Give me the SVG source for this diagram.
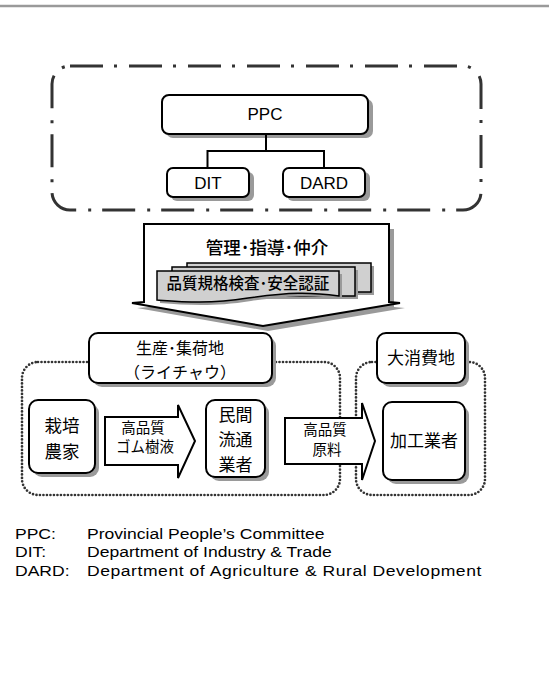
<svg xmlns="http://www.w3.org/2000/svg" width="549" height="682" viewBox="0 0 549 682">
<style>
.box{fill:#fff;stroke:#000;stroke-width:2}
.sh{fill:#9a9a9a;stroke:none}
.lat{font-family:"Liberation Sans",Arial,sans-serif;fill:#000}
.jp{font-family:"Noto Sans CJK JP","Noto Sans",sans-serif;fill:#000}
.card{fill:#d0d0d0;stroke:#000;stroke-width:1.5}
.conn{fill:none;stroke:#000;stroke-width:2}
.arr{fill:#fff;stroke:#000;stroke-width:2;stroke-linejoin:miter}
.dot{fill:none;stroke:#333;stroke-width:2.7;stroke-linecap:round;stroke-dasharray:0 3.5}
</style>
<rect width="549" height="682" fill="#fff"/>
<line x1="0" y1="6" x2="549" y2="6" stroke="#9a9a9a" stroke-width="2.5"/>

<g id="gov-group">
<rect x="52" y="66" width="429" height="144" rx="18" fill="none" stroke="#333" stroke-width="3" stroke-dasharray="33 11 3 12"/>
</g>

<g id="PPC">
<rect class="sh" x="166" y="99" width="207" height="39" rx="7"/>
<rect class="box" x="162" y="95" width="206" height="39" rx="7"/>
<text class="lat" x="265" y="120" font-size="17" text-anchor="middle">PPC</text>
</g>
<g id="DIT">
<rect class="sh" x="171" y="172" width="83" height="29" rx="6"/>
<rect class="box" x="167" y="168" width="82" height="29" rx="6"/>
<text class="lat" x="208" y="189" font-size="17" text-anchor="middle">DIT</text>
</g>
<g id="DARD">
<rect class="sh" x="287" y="172" width="83" height="29" rx="6"/>
<rect class="box" x="283" y="168" width="82" height="29" rx="6"/>
<text class="lat" x="324" y="189" font-size="17" text-anchor="middle">DARD</text>
</g>

<g id="connectors">
<path class="conn" d="M266,134 V151 M207.5,151 H324 M207.5,150 V168 M324,150 V168"/>
</g>

<g id="big-arrow">
<polygon class="sh" points="149,229 394,229 394,307 405,308 268,331 137,308 149,307"/>
<polygon class="arr" points="144,224 389,224 389,302 400,303 263,326 132,303 144,302"/>
<text class="jp" x="267" y="254" font-size="17.5" font-weight="500" text-anchor="middle">管理･指導･仲介</text>
</g>

<g id="cards">
<rect class="sh" x="190" y="266" width="184" height="29"/>
<rect class="card" x="187" y="263" width="184" height="29"/>
<rect class="sh" x="175" y="270" width="183" height="29"/>
<rect class="card" x="172" y="267" width="183" height="29"/>
<path class="sh" d="M160,274 H342 V299 C313,295 293,295 251,301 C213,307 188,305 160,303 Z"/>
<path class="card" d="M157,271 H339 V296 C310,292 290,292 248,298 C210,304 185,302 157,300 Z"/>
<text class="jp" x="248" y="289" font-size="15.5" font-weight="500" text-anchor="middle">品質規格検査･安全認証</text>
</g>

<g id="production-area">
<rect class="dot" x="22" y="362" width="318" height="133" rx="16"/>
</g>
<g id="consumption-area">
<rect class="dot" x="356" y="362" width="129" height="133" rx="16"/>
</g>

<g id="production-label">
<rect class="sh" x="93" y="337" width="183" height="50" rx="9"/>
<rect class="box" x="89" y="333" width="183" height="50" rx="9"/>
<text class="jp" x="180" y="354" font-size="16" text-anchor="middle">生産･集荷地</text>
<text class="jp" x="180" y="378" font-size="16" text-anchor="middle">（ライチャウ）</text>
</g>
<g id="consumption-label">
<rect class="sh" x="381" y="337" width="88" height="50" rx="9"/>
<rect class="box" x="377" y="333" width="88" height="50" rx="9"/>
<text class="jp" x="421" y="364" font-size="17" text-anchor="middle">大消費地</text>
</g>

<g id="farmers">
<rect class="sh" x="33" y="404" width="66" height="73" rx="9"/>
<rect class="box" x="29" y="400" width="66" height="73" rx="9"/>
<text class="jp" x="62" y="432" font-size="17.5" text-anchor="middle">栽培</text>
<text class="jp" x="62" y="458" font-size="17.5" text-anchor="middle">農家</text>
</g>

<g id="arrow1">
<polygon class="arr" points="105,417 178,417 178,405 195,441 178,478 178,465 105,465"/>
<text class="jp" x="143" y="433" font-size="14.5" text-anchor="middle">高品質</text>
<text class="jp" x="145" y="452" font-size="14.5" text-anchor="middle">ゴム樹液</text>
</g>

<g id="traders">
<rect class="sh" x="210" y="404" width="59" height="77" rx="9"/>
<rect class="box" x="206" y="400" width="59" height="77" rx="9"/>
<text class="jp" x="235.5" y="421" font-size="17" text-anchor="middle">民間</text>
<text class="jp" x="235.5" y="446" font-size="17" text-anchor="middle">流通</text>
<text class="jp" x="235.5" y="471" font-size="17" text-anchor="middle">業者</text>
</g>

<g id="arrow2">
<polygon class="arr" points="285,418 362,418 362,403 375,441 362,480 362,464 285,464"/>
<text class="jp" x="325" y="435" font-size="14.5" text-anchor="middle">高品質</text>
<text class="jp" x="327" y="455" font-size="14.5" text-anchor="middle">原料</text>
</g>

<g id="processors">
<rect class="sh" x="387" y="406" width="82" height="78" rx="9"/>
<rect class="box" x="383" y="402" width="82" height="78" rx="9"/>
<text class="jp" x="424" y="447" font-size="17" text-anchor="middle">加工業者</text>
</g>

<g id="legend" transform="scale(1.17,1)">
<text class="lat" x="12.8" y="539" font-size="15">PPC:</text>
<text class="lat" x="74.4" y="539" font-size="15">Provincial People’s Committee</text>
<text class="lat" x="12.8" y="557" font-size="15">DIT:</text>
<text class="lat" x="74.4" y="557" font-size="15">Department of Industry &amp; Trade</text>
<text class="lat" x="12.8" y="576" font-size="15">DARD:</text>
<text class="lat" x="74.4" y="576" font-size="15" textLength="337" lengthAdjust="spacing">Department of Agriculture &amp; Rural Development</text>
</g>
</svg>
